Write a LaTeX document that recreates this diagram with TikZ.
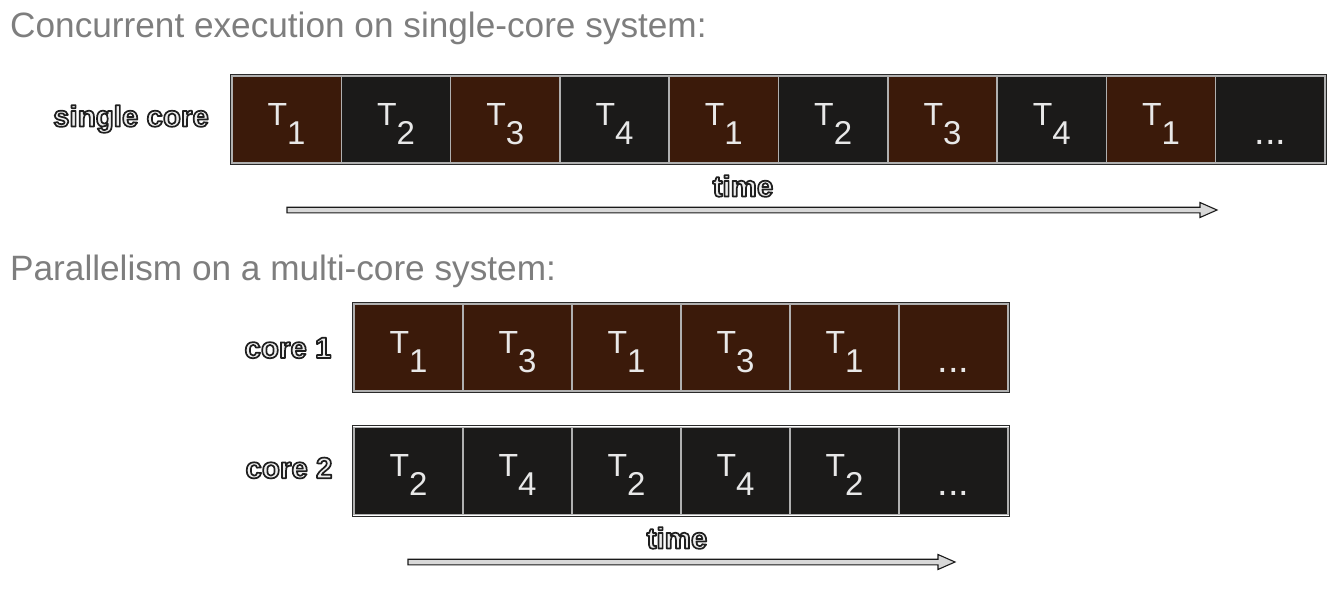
\documentclass[tikz,border=0pt]{standalone}
\usepackage{fontspec}
\setmainfont{Liberation Sans}
\usetikzlibrary{calc}
\definecolor{brn}{HTML}{3B1A0A}
\definecolor{blk}{HTML}{1B1A19}
\definecolor{sep}{HTML}{B0B0B0}
\definecolor{edge}{HTML}{2A2A2A}
\definecolor{ttl}{HTML}{7E7E7E}
\definecolor{txt}{HTML}{E8E8E8}
\definecolor{olk}{HTML}{1A1A1A}
\definecolor{olf}{HTML}{EEEEEE}
\definecolor{arf}{HTML}{D8D8D8}
\newcommand\olt[1]{\leavevmode\color{olf}%
  \special{pdf:literal direct 2 Tr 1.7 w 0.12 0.12 0.12 RG 1 j}#1\special{pdf:literal direct 0 Tr}}
\newcommand\Tk[1]{T\raisebox{-19pt}{\fontsize{33}{33}\selectfont #1}}
\newcommand\Dots{\raisebox{-19pt}{\fontsize{38}{38}\selectfont ...}}
\begin{document}
\begin{tikzpicture}[x=1pt,y=-1pt,
  cell/.style={draw=sep, line width=1.5pt, minimum width=109.3pt, minimum height=87pt,
    inner sep=0pt, text=txt, font=\fontsize{32}{32}\selectfont, text height=30pt, text depth=19pt},
  title/.style={anchor=base west, inner sep=0pt, text=ttl, font=\fontsize{35.2}{35.2}\selectfont},
  lbl/.style={inner sep=0pt, font=\bfseries\fontsize{29.5}{29.5}\selectfont},
  frame/.style={draw=edge, line width=1.2pt},
  arrowbody/.style={draw=olk, fill=arf, line width=1.1pt, line join=miter}]
\useasboundingbox (0,0) rectangle (1342,602);

\node[title] (t1) at (10,38) {Concurrent execution on single-core system:};
\node[title] (t2) at (10,280) {Parallelism on a multi-core system:};

% single core
\foreach \lab/\col [count=\i] in {1/brn,2/blk,3/brn,4/blk,1/brn,2/blk,3/brn,4/blk,1/brn}
  \node[cell, fill=\col] (s\i) at ({232+109.3*(\i-0.5)},119.5) {\Tk{\lab}};
\node[cell, fill=blk] (s10) at ({232+109.3*9.5},119.5) {\Dots};
\draw[frame] ($(s1.north west)+(-1,-1)$) rectangle ($(s10.south east)+(1,1)$);
\node[lbl] (lsc) at (131,119) {\olt{single core}};
\node[lbl] (time1) at (743,186) {\olt{time}};
\coordinate (ta1) at (287,210);
\coordinate (ta2) at (1217,210);
\draw[arrowbody] ($(ta1)+(0,-2.8)$) -- ($(ta2)+(-17,-2.8)$) -- ($(ta2)+(-17,-7.5)$) -- (ta2)
  -- ($(ta2)+(-17,7.5)$) -- ($(ta2)+(-17,2.8)$) -- ($(ta1)+(0,2.8)$) -- cycle;

% core 1
\foreach \lab [count=\i] in {1,3,1,3,1}
  \node[cell, fill=brn, minimum width=109pt] (c\i) at ({354+109*(\i-0.5)},347.5) {\Tk{\lab}};
\node[cell, fill=brn, minimum width=109pt] (c6) at ({354+109*5.5},347.5) {\Dots};
\draw[frame] ($(c1.north west)+(-1,-1)$) rectangle ($(c6.south east)+(1,1)$);
\node[lbl] (lc1) at (288,348) {\olt{core 1}};

% core 2
\foreach \lab [count=\i] in {2,4,2,4,2}
  \node[cell, fill=blk, minimum width=109pt] (d\i) at ({354+109*(\i-0.5)},471) {\Tk{\lab}};
\node[cell, fill=blk, minimum width=109pt] (d6) at ({354+109*5.5},471) {\Dots};
\draw[frame] ($(d1.north west)+(-1,-1)$) rectangle ($(d6.south east)+(1,1)$);
\node[lbl] (lc2) at (289,468) {\olt{core 2}};
\node[lbl] (time2) at (677,538) {\olt{time}};
\coordinate (tb1) at (408,562);
\coordinate (tb2) at (955,562);
\draw[arrowbody] ($(tb1)+(0,-2.8)$) -- ($(tb2)+(-17,-2.8)$) -- ($(tb2)+(-17,-7.5)$) -- (tb2)
  -- ($(tb2)+(-17,7.5)$) -- ($(tb2)+(-17,2.8)$) -- ($(tb1)+(0,2.8)$) -- cycle;
\end{tikzpicture}
\end{document}
